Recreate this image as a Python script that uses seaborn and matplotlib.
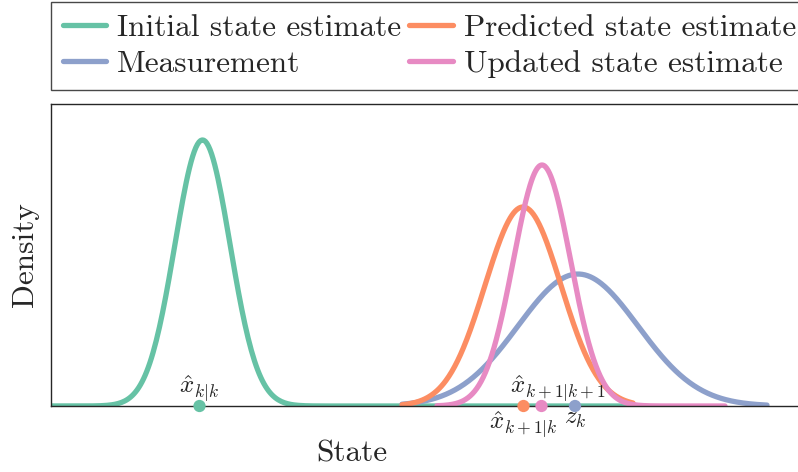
import numpy as np
import pandas as pd
import matplotlib
matplotlib.use("Agg")
import matplotlib.pyplot as plt
import seaborn as sns

# ---- data (state units, peak heights relative to y-limit) ----
series = ["Initial state estimate", "Measurement", "Predicted state estimate", "Updated state estimate"]
colors = ["#66c2a5", "#8da0cb", "#fc8d62", "#e78ac3"]
means = [3.03, 10.54, 9.44, 9.82]
sigmas = [0.552, 1.20, 0.76, 0.57]
peaks = [0.881, 0.437, 0.659, 0.798]
x_start = [-1.0, 7.02, 7.02, 7.72]
x_end = [11.64, 14.32, 11.64, 13.48]
marker_x = [2.97, 10.48, 9.45, 9.81]
marker_labels = [r"$\hat{x}_{k|k}$", r"$z_k$", r"$\hat{x}_{k+1|k}$", r"$\hat{x}_{k+1|k+1}$"]
label_offsets = [(0, 17), (0, -13), (0, -19), (16, 17)]  # pixels

sns.set_theme(style="white")
plt.rcParams["font.family"] = ["cmr10", "DejaVu Serif"]
plt.rcParams["mathtext.fontset"] = "cm"
plt.rcParams["axes.unicode_minus"] = False
plt.rcParams["axes.formatter.use_mathtext"] = True

rows = []
for name, mu, sd, pk, a, b in zip(series, means, sigmas, peaks, x_start, x_end):
    xs = np.linspace(a, b, 400)
    ys = pk * np.exp(-0.5 * ((xs - mu) / sd) ** 2)
    rows.append(pd.DataFrame({"State": xs, "Density": ys, "series": name}))
df = pd.concat(rows, ignore_index=True)

fig = plt.figure(figsize=(7.98, 4.72), dpi=100)
ax = fig.add_axes([51 / 798, 1 - 406 / 472, 760 / 798, 302 / 472])

sns.lineplot(data=df, x="State", y="Density", hue="series", hue_order=series,
             palette=colors, linewidth=3.8, sort=False, estimator=None, ax=ax, legend=False)

pts = pd.DataFrame({"State": marker_x, "Density": [0.0] * 4, "series": series})
sns.scatterplot(data=pts, x="State", y="Density", hue="series", hue_order=series,
                palette=colors, s=78, linewidth=0, ax=ax, legend=False, zorder=5)
for coll in ax.collections:
    coll.set_clip_on(False)

for lab, mx, off in zip(marker_labels, marker_x, label_offsets):
    ax.annotate(lab, xy=(mx, 0), xytext=off, textcoords="offset pixels",
                ha="center", va="center", fontsize=18, zorder=6)

ax.set_xlim(0, 760 / 50)
ax.set_ylim(0, 1.0)
ax.set_xticks([])
ax.set_yticks([])
ax.set_xlabel("State", fontsize=22.5, x=(352 - 51) / 760, labelpad=24)
ax.set_ylabel("Density", fontsize=22.5, labelpad=8.5)
for side in ["left", "top", "bottom", "right"]:
    ax.spines[side].set_color("0.15")
    ax.spines[side].set_linewidth(1.0)

handles = ax.get_lines()[:4]
leg = fig.legend(handles, series, loc="upper left", ncol=2,
                 bbox_to_anchor=(51 / 798, 1 - 2 / 472),
                 fontsize=22.5, frameon=True, fancybox=False, handlelength=1.4,
                 handletextpad=0.35, columnspacing=0.25, labelspacing=0.28,
                 borderpad=0.37, borderaxespad=0.0)
leg.get_frame().set_edgecolor("0.1")
leg.get_frame().set_linewidth(1.0)
for h in leg.legend_handles:
    h.set_linewidth(3.8)

fig.savefig("out.png", dpi=100)
